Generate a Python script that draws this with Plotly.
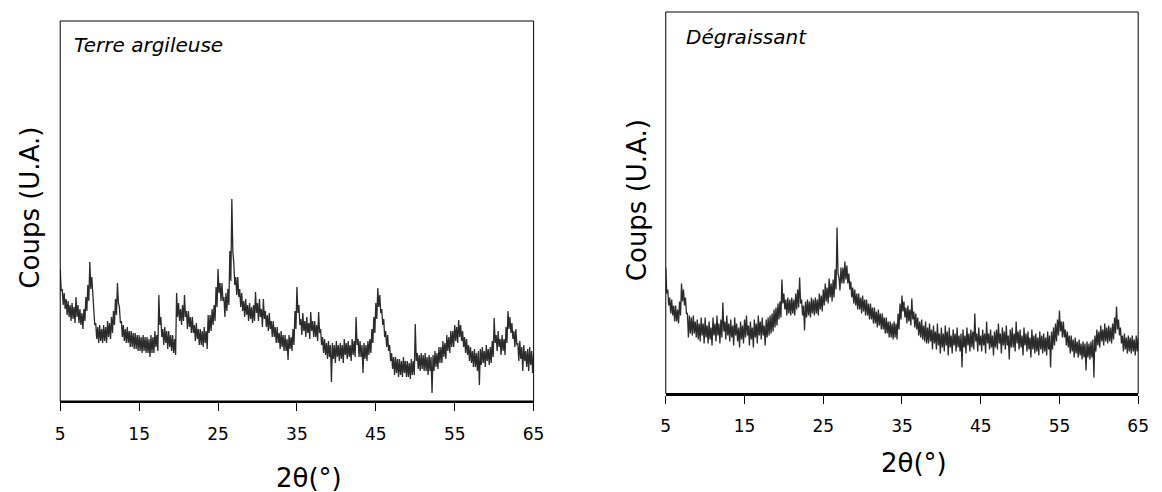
import numpy as np
import plotly.graph_objects as go

# Scan grid (2theta, degrees): one envelope reading every 0.25 deg from 5 to 65
SCAN_START = 5.0
SCAN_STEP = 0.25
X_TICKS = [5, 15, 25, 35, 45, 55, 65]

# Noise-band envelope (upper / lower counts, arbitrary units)
terre_hi = [
    131, 112, 108, 102, 100, 96, 98, 94, 104, 96, 92, 88, 92, 104, 116, 139,
    124, 92, 78, 74, 76, 72, 76, 74, 80, 78, 84, 90, 102, 118, 94, 80,
    76, 72, 74, 70, 70, 68, 68, 66, 66, 64, 66, 64, 64, 62, 66, 64,
    70, 66, 106, 84, 72, 74, 70, 70, 66, 66, 62, 108, 98, 92, 96, 106,
    90, 90, 84, 84, 76, 78, 72, 72, 70, 74, 70, 86, 86, 92, 96, 114,
    132, 118, 118, 104, 108, 112, 150, 202, 138, 124, 124, 112, 108, 100, 102, 96,
    98, 94, 96, 109, 98, 102, 92, 102, 90, 86, 88, 80, 80, 74, 74, 68,
    70, 66, 66, 62, 66, 64, 72, 90, 114, 96, 82, 88, 80, 84, 78, 89,
    80, 80, 76, 89, 72, 64, 62, 58, 60, 56, 58, 56, 60, 56, 58, 56,
    62, 58, 60, 56, 62, 60, 84, 62, 60, 56, 58, 56, 60, 62, 72, 84,
    98, 113, 106, 92, 82, 70, 66, 56, 48, 44, 44, 42, 42, 40, 44, 40,
    40, 38, 42, 40, 77, 48, 46, 48, 46, 48, 44, 46, 44, 46, 50, 48,
    54, 54, 60, 58, 66, 64, 70, 70, 76, 74, 81, 76, 70, 64, 62, 56,
    54, 50, 52, 48, 50, 52, 54, 50, 56, 52, 54, 60, 83, 66, 70, 62,
    66, 62, 74, 90, 84, 78, 70, 72, 58, 60, 54, 56, 50, 52, 54, 50,
    48,
]
terre_lo = [
    110, 96, 92, 86, 84, 80, 82, 78, 84, 78, 76, 72, 80, 90, 100, 112,
    100, 76, 62, 58, 60, 58, 60, 58, 64, 62, 68, 76, 86, 98, 78, 64,
    60, 58, 58, 54, 54, 52, 52, 50, 50, 48, 50, 48, 48, 44, 48, 48,
    54, 50, 76, 64, 56, 58, 52, 54, 50, 48, 46, 84, 80, 76, 80, 84,
    72, 74, 68, 68, 60, 62, 56, 56, 54, 58, 52, 68, 70, 76, 80, 94,
    108, 100, 100, 84, 90, 96, 120, 150, 116, 106, 104, 94, 90, 84, 86, 80,
    82, 78, 80, 88, 80, 84, 74, 82, 74, 70, 72, 64, 64, 58, 58, 52,
    54, 50, 50, 41, 52, 50, 56, 72, 88, 76, 66, 70, 64, 68, 62, 70,
    64, 64, 60, 68, 56, 48, 46, 42, 44, 19, 42, 38, 44, 40, 42, 38,
    46, 42, 44, 40, 46, 44, 56, 44, 44, 28, 42, 40, 46, 48, 58, 68,
    82, 94, 88, 76, 64, 54, 50, 40, 32, 26, 28, 24, 26, 24, 28, 24,
    24, 22, 26, 26, 40, 32, 30, 32, 30, 30, 26, 30, 8, 30, 34, 32,
    38, 38, 44, 42, 50, 48, 54, 54, 60, 58, 64, 60, 54, 48, 46, 40,
    38, 34, 34, 30, 16, 36, 38, 34, 40, 36, 38, 44, 58, 50, 54, 46,
    50, 46, 58, 72, 68, 62, 54, 56, 40, 42, 30, 40, 34, 30, 36, 28,
    44,
]

degr_hi = [
    126, 104, 96, 94, 88, 88, 84, 92, 110, 104, 96, 80, 78, 76, 78, 72,
    74, 70, 76, 70, 76, 68, 72, 66, 76, 70, 78, 70, 74, 91, 72, 78,
    70, 74, 68, 76, 70, 66, 72, 68, 74, 78, 68, 72, 66, 74, 70, 78,
    72, 76, 68, 74, 76, 78, 80, 84, 86, 90, 92, 114, 100, 94, 96, 94,
    96, 94, 100, 104, 116, 94, 88, 92, 94, 92, 96, 94, 96, 94, 100, 98,
    104, 110, 106, 115, 110, 114, 124, 166, 116, 126, 126, 132, 128, 120, 112, 106,
    104, 100, 100, 96, 98, 94, 94, 90, 90, 86, 86, 82, 84, 80, 80, 76,
    76, 72, 72, 70, 72, 70, 80, 90, 98, 92, 86, 88, 84, 95, 82, 80,
    76, 72, 74, 68, 72, 66, 70, 64, 68, 62, 70, 60, 66, 60, 68, 62,
    66, 58, 64, 60, 66, 58, 60, 64, 58, 66, 60, 64, 62, 80, 60, 66,
    58, 64, 60, 72, 60, 64, 58, 62, 64, 70, 60, 66, 62, 68, 58, 64,
    66, 60, 72, 62, 64, 58, 66, 60, 62, 56, 64, 58, 60, 56, 62, 58,
    60, 56, 62, 58, 62, 66, 70, 74, 83, 72, 72, 64, 62, 58, 58, 54,
    56, 52, 54, 50, 52, 50, 52, 50, 52, 54, 58, 64, 62, 68, 64, 70,
    66, 68, 66, 70, 76, 87, 74, 66, 58, 60, 56, 58, 56, 58, 54, 58,
    56,
]
degr_lo = [
    100, 88, 80, 78, 72, 72, 70, 78, 92, 88, 80, 56, 60, 58, 60, 56,
    54, 52, 58, 50, 56, 50, 54, 48, 58, 52, 58, 50, 56, 62, 54, 58,
    52, 56, 48, 58, 52, 46, 54, 50, 56, 58, 48, 54, 46, 56, 50, 58,
    54, 58, 48, 56, 58, 60, 62, 66, 68, 74, 76, 90, 84, 78, 80, 78,
    80, 78, 84, 86, 90, 78, 63, 76, 78, 76, 80, 78, 80, 78, 84, 82,
    88, 92, 90, 96, 92, 96, 104, 120, 103, 110, 110, 114, 110, 104, 96, 90,
    88, 84, 84, 80, 82, 78, 78, 74, 74, 70, 70, 66, 68, 64, 64, 60,
    60, 56, 56, 54, 56, 54, 64, 74, 82, 76, 70, 72, 68, 74, 66, 64,
    58, 56, 54, 52, 50, 50, 52, 44, 50, 44, 48, 40, 46, 42, 48, 38,
    46, 40, 48, 42, 46, 42, 26, 46, 40, 48, 42, 46, 44, 52, 42, 48,
    42, 48, 40, 50, 44, 46, 38, 46, 44, 50, 40, 48, 44, 48, 34, 46,
    46, 42, 50, 44, 46, 38, 48, 42, 44, 36, 44, 40, 42, 38, 44, 40,
    42, 38, 44, 26, 44, 48, 52, 58, 62, 56, 56, 48, 46, 40, 42, 36,
    40, 36, 38, 34, 36, 23, 36, 34, 36, 16, 42, 48, 46, 52, 48, 52,
    50, 52, 50, 54, 60, 64, 58, 50, 42, 44, 40, 42, 40, 42, 38, 42,
    44,
]


def zigzag(hi, lo):
    """Trace the noise band: upper reading, then lower reading half a step later."""
    base = SCAN_START + SCAN_STEP * np.arange(len(hi))
    xs = np.empty(2 * len(hi))
    ys = np.empty(2 * len(hi))
    xs[0::2] = base
    xs[1::2] = base + SCAN_STEP / 2
    ys[0::2] = hi
    ys[1::2] = lo
    return xs, ys


W, H = 1162, 492
FONT = "DejaVu Sans"
LINE_COLOR = "#2b2b2b"


def dom_x(a, b):
    return [a / W, b / W]


def dom_y(top, bottom):
    return [1 - bottom / H, 1 - top / H]


fig = go.Figure()
x1, y1 = zigzag(terre_hi, terre_lo)
x2, y2 = zigzag(degr_hi, degr_lo)
fig.add_trace(go.Scatter(x=x1, y=y1, mode="lines",
                         line=dict(color=LINE_COLOR, width=1.3),
                         xaxis="x", yaxis="y", showlegend=False))
fig.add_trace(go.Scatter(x=x2, y=y2, mode="lines",
                         line=dict(color=LINE_COLOR, width=1.3),
                         xaxis="x2", yaxis="y2", showlegend=False))

xcommon = dict(range=[5, 65], tickmode="array", tickvals=X_TICKS,
               ticktext=[str(v) for v in X_TICKS], ticks="outside", ticklen=8,
               tickwidth=1.3, tickcolor="black", showline=True, linewidth=2,
               linecolor="black", showgrid=False, zeroline=False,
               tickfont=dict(family=FONT, size=17, color="black"))
ycommon = dict(showticklabels=False, ticks="", showgrid=False, zeroline=False,
               showline=False)

fig.update_layout(
    width=W, height=H, margin=dict(l=0, r=0, t=0, b=0),
    paper_bgcolor="white", plot_bgcolor="white",
    xaxis=dict(domain=dom_x(56, 536), anchor="y", ticklabelstandoff=9, **xcommon),
    yaxis=dict(domain=dom_y(21, 401), anchor="x", range=[0, 380], **ycommon),
    xaxis2=dict(domain=dom_x(670, 1149), anchor="y2", ticklabelstandoff=8, **xcommon),
    yaxis2=dict(domain=dom_y(12, 393.5), anchor="x2", range=[0, 381.5], **ycommon),
)

for xr, yr in (("x", "y"), ("x2", "y2")):
    fig.add_shape(type="rect", xref=f"{xr} domain", yref=f"{yr} domain",
                  x0=0, x1=1, y0=0, y1=1, line=dict(color="black", width=1),
                  fillcolor="rgba(0,0,0,0)", layer="above")

ann = []
ann.append(dict(text="<i>Terre argileuse</i>", x=68 / W, y=1 - 44.5 / H, xref="paper", yref="paper",
                xanchor="left", yanchor="middle", showarrow=False,
                font=dict(family=FONT, size=20, color="black")))
ann.append(dict(text="<i>Dégraissant</i>", x=688 / W, y=1 - 36.5 / H, xref="paper", yref="paper",
                xanchor="left", yanchor="middle", showarrow=False,
                font=dict(family=FONT, size=20, color="black")))
for xc, yc in ((308.5, 478), (922, 463)):
    ann.append(dict(text="2θ(°)", x=xc / W, y=1 - yc / H, xref="paper", yref="paper",
                    xanchor="center", yanchor="middle", showarrow=False,
                    font=dict(family=FONT, size=26, color="black")))
for xc, yc in ((25, 208), (641, 200)):
    ann.append(dict(text="Coups (U.A.)", x=xc / W, y=1 - yc / H, xref="paper", yref="paper",
                    xanchor="center", yanchor="middle", textangle=-90, showarrow=False,
                    font=dict(family=FONT, size=26, color="black")))
fig.update_layout(annotations=ann)

fig.write_html("out.html", config={"displayModeBar": False},
               post_script="document.body.style.margin='0px';document.body.style.overflow='hidden';")
